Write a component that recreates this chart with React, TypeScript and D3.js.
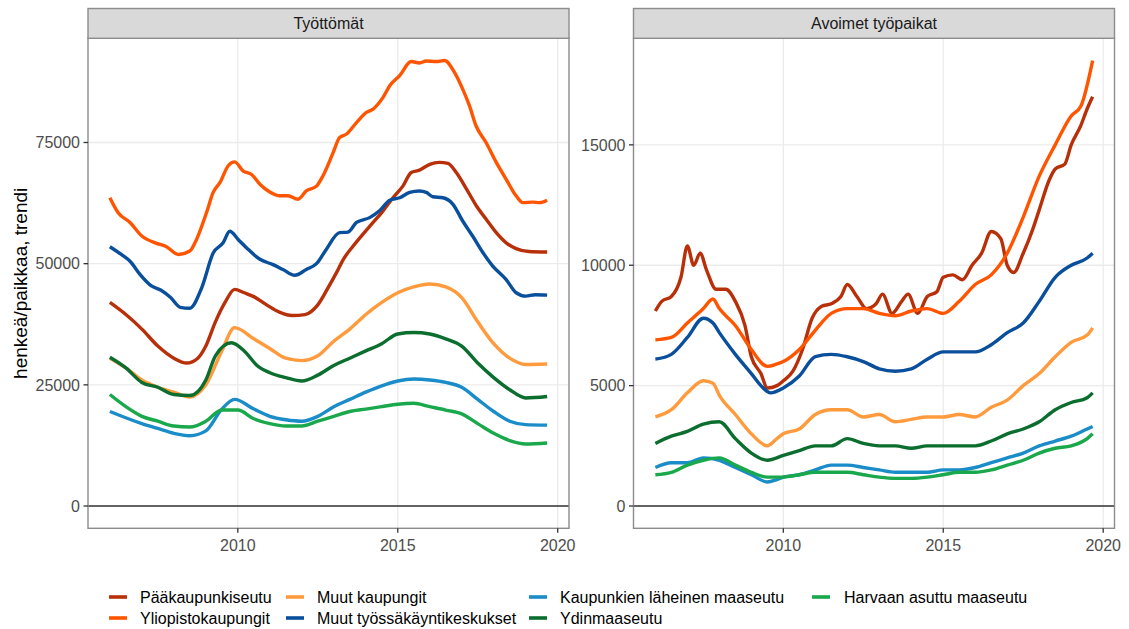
import React from 'react';
import * as d3 from 'd3';

type P = [number, number];

const seriesNames = [
  'Pääkaupunkiseutu',
  'Yliopistokaupungit',
  'Muut kaupungit',
  'Muut työssäkäyntikeskukset',
  'Kaupunkien läheinen maaseutu',
  'Ydinmaaseutu',
  'Harvaan asuttu maaseutu',
];
const seriesColors = ['#B83009', '#FF5500', '#FF9A3D', '#0A4F9C', '#1A8CC8', '#0B6E2E', '#19A84B'];

const panelTitles = ['Työttömät', 'Avoimet työpaikat'];
const xTicks = [2010, 2015, 2020];
const yTicksLeft = [0, 25000, 50000, 75000];
const yTicksRight = [0, 5000, 10000, 15000];
const yTitle = 'henkeä/paikkaa, trendi';

// --- Työttömät ---
const tPaakaupunkiseutu: P[] = [[2006.0,42000],[2006.5,39500],[2007.0,36500],[2007.5,33000],[2008.0,30500],[2008.4,29500],[2008.75,30500],[2009.0,33000],[2009.3,38000],[2009.6,42000],[2009.9,44700],[2010.2,44000],[2010.5,43200],[2010.9,41500],[2011.3,40000],[2011.7,39300],[2012.1,39500],[2012.5,41500],[2012.82,45000],[2013.08,48100],[2013.3,50900],[2013.6,53600],[2013.9,56000],[2014.23,58500],[2014.54,60900],[2014.85,63600],[2015.16,66000],[2015.42,68800],[2015.68,69300],[2016.0,70500],[2016.3,70900],[2016.57,70700],[2016.83,68800],[2017.15,65400],[2017.46,61900],[2017.76,59200],[2018.08,56400],[2018.39,54300],[2018.7,53100],[2019.1,52500],[2019.67,52400]];
const tYliopisto: P[] = [[2006.0,63600],[2006.26,60500],[2006.63,58500],[2007.0,55700],[2007.46,54200],[2007.77,53500],[2008.14,51900],[2008.5,52600],[2008.71,55000],[2009.02,60500],[2009.23,64700],[2009.44,66700],[2009.7,70200],[2009.9,71000],[2010.17,69100],[2010.43,68400],[2010.69,66400],[2011.0,64800],[2011.31,64000],[2011.57,64000],[2011.88,63300],[2012.14,65000],[2012.46,66000],[2012.66,68100],[2012.98,72900],[2013.18,76000],[2013.39,76700],[2013.71,79100],[2014.02,81200],[2014.23,81900],[2014.54,84300],[2014.75,86700],[2015.06,88800],[2015.42,91700],[2015.68,91400],[2015.89,91800],[2016.2,91700],[2016.46,91900],[2016.77,89500],[2017.03,86000],[2017.24,82600],[2017.45,78400],[2017.76,75000],[2018.08,70900],[2018.39,67400],[2018.7,64000],[2018.91,62600],[2019.22,62700],[2019.43,62600],[2019.67,63100]];
const tMuutKaupungit: P[] = [[2006.0,30500],[2006.5,28500],[2007.0,26000],[2007.5,24500],[2008.0,23500],[2008.5,22500],[2009.0,25000],[2009.5,32000],[2009.9,36800],[2010.5,34500],[2011.0,32500],[2011.5,30500],[2012.0,30000],[2012.5,31000],[2013.0,34000],[2013.5,36500],[2014.0,39500],[2014.5,42000],[2015.0,44000],[2015.5,45200],[2016.0,45800],[2016.5,45200],[2017.0,43000],[2017.5,38000],[2018.0,33500],[2018.5,30500],[2019.0,29200],[2019.67,29300]];
const tMuutTK: P[] = [[2006.0,53500],[2006.42,51600],[2006.63,50500],[2006.94,47800],[2007.3,45400],[2007.6,44500],[2007.9,43000],[2008.2,41000],[2008.5,40800],[2008.87,45000],[2009.23,52200],[2009.54,54300],[2009.75,56700],[2010.01,55000],[2010.27,53300],[2010.69,50900],[2011.1,49800],[2011.41,48800],[2011.78,47600],[2012.14,48800],[2012.46,50000],[2012.77,53000],[2013.18,56400],[2013.44,56500],[2013.71,58500],[2014.12,59500],[2014.43,60900],[2014.75,63100],[2015.06,63600],[2015.37,64700],[2015.68,65000],[2015.89,64700],[2016.1,63800],[2016.41,63600],[2016.72,62300],[2017.03,58800],[2017.34,55700],[2017.66,52300],[2017.97,49500],[2018.39,46700],[2018.7,44000],[2019.0,43300],[2019.3,43600],[2019.67,43500]];
const tKaupunkienLaheinen: P[] = [[2006.0,19500],[2007.0,17000],[2007.5,16000],[2008.0,15000],[2008.5,14500],[2009.0,15500],[2009.5,20000],[2009.9,22000],[2010.5,20000],[2011.0,18500],[2011.5,17800],[2012.0,17500],[2012.5,18500],[2013.0,20500],[2013.5,22000],[2014.0,23500],[2014.5,24800],[2015.0,25800],[2015.5,26200],[2016.0,26000],[2016.5,25500],[2017.0,24500],[2017.5,22000],[2018.0,19500],[2018.5,17500],[2019.0,16800],[2019.67,16700]];
const tYdinmaaseutu: P[] = [[2006.0,30700],[2006.5,28500],[2007.0,25500],[2007.5,24500],[2008.0,23000],[2008.5,22800],[2009.0,26000],[2009.3,31000],[2009.8,33700],[2010.2,32000],[2010.6,29000],[2011.0,27500],[2011.5,26500],[2012.0,25800],[2012.5,27000],[2013.0,29000],[2013.5,30500],[2014.0,32000],[2014.5,33500],[2015.0,35500],[2015.5,35800],[2016.0,35500],[2016.5,34500],[2017.0,33000],[2017.5,29500],[2018.0,26500],[2018.5,24000],[2019.0,22300],[2019.67,22600]];
const tHarvaan: P[] = [[2006.0,23000],[2006.5,20500],[2007.0,18500],[2007.5,17500],[2008.0,16500],[2008.5,16300],[2009.0,17500],[2009.5,19800],[2010.0,19800],[2010.5,18000],[2011.0,17000],[2011.5,16500],[2012.0,16500],[2012.5,17500],[2013.0,18500],[2013.5,19500],[2014.0,20000],[2014.5,20500],[2015.0,21000],[2015.5,21200],[2016.0,20500],[2016.5,19800],[2017.0,19000],[2017.5,17000],[2018.0,15000],[2018.5,13500],[2019.0,12800],[2019.67,13000]];

// --- Avoimet työpaikat ---
const aPaakaupunkiseutu: P[] = [[2006.0,8100],[2006.2,8500],[2006.5,8700],[2006.8,9500],[2007.0,10800],[2007.2,10000],[2007.4,10500],[2007.6,9800],[2007.9,9000],[2008.2,9000],[2008.5,8500],[2008.8,7500],[2009.0,6200],[2009.3,5500],[2009.5,4900],[2009.8,5000],[2010.0,5200],[2010.3,5600],[2010.6,6500],[2010.9,7800],[2011.2,8300],[2011.5,8400],[2011.8,8700],[2012.0,9200],[2012.3,8700],[2012.6,8200],[2012.9,8400],[2013.1,8800],[2013.4,8000],[2013.7,8500],[2013.9,8800],[2014.2,8000],[2014.5,8700],[2014.8,8900],[2015.0,9500],[2015.3,9600],[2015.6,9400],[2015.9,10000],[2016.2,10500],[2016.5,11400],[2016.8,11100],[2017.0,10000],[2017.2,9700],[2017.5,10500],[2017.8,11500],[2018.0,12300],[2018.3,13500],[2018.5,14000],[2018.8,14200],[2019.0,15000],[2019.3,15800],[2019.5,16500],[2019.67,17000]];
const aYliopisto: P[] = [[2006.0,6900],[2006.5,7000],[2007.0,7600],[2007.5,8200],[2007.8,8600],[2008.0,8200],[2008.5,7500],[2009.0,6500],[2009.5,5800],[2009.8,5900],[2010.0,6000],[2010.5,6500],[2011.0,7300],[2011.5,8000],[2012.0,8200],[2012.5,8200],[2013.0,8000],[2013.5,7900],[2014.0,8100],[2014.5,8200],[2015.0,8000],[2015.5,8500],[2016.0,9200],[2016.5,9600],[2017.0,10500],[2017.5,12000],[2018.0,13700],[2018.5,15000],[2019.0,16200],[2019.3,16600],[2019.67,18500]];
const aMuutKaupungit: P[] = [[2006.0,3700],[2006.5,4000],[2007.0,4700],[2007.5,5200],[2007.8,5100],[2008.0,4600],[2008.5,3800],[2009.0,3000],[2009.5,2500],[2009.8,2800],[2010.0,3000],[2010.5,3200],[2011.0,3800],[2011.5,4000],[2012.0,4000],[2012.5,3700],[2013.0,3800],[2013.5,3500],[2014.0,3600],[2014.5,3700],[2015.0,3700],[2015.5,3800],[2016.0,3700],[2016.5,4100],[2017.0,4400],[2017.5,5000],[2018.0,5500],[2018.5,6200],[2019.0,6800],[2019.5,7100],[2019.67,7400]];
const aMuutTK: P[] = [[2006.0,6100],[2006.5,6300],[2007.0,7000],[2007.5,7800],[2007.8,7600],[2008.0,7200],[2008.5,6300],[2009.0,5500],[2009.3,5000],[2009.6,4700],[2010.0,4900],[2010.5,5400],[2011.0,6200],[2011.5,6300],[2012.0,6200],[2012.5,6000],[2013.0,5700],[2013.5,5600],[2014.0,5700],[2014.5,6100],[2015.0,6400],[2015.5,6400],[2016.0,6400],[2016.5,6700],[2017.0,7200],[2017.5,7600],[2018.0,8500],[2018.5,9500],[2019.0,10000],[2019.5,10300],[2019.67,10500]];
const aKaupunkienLaheinen: P[] = [[2006.0,1600],[2006.5,1800],[2007.0,1800],[2007.5,2000],[2008.0,1900],[2008.5,1600],[2009.0,1300],[2009.5,1000],[2009.8,1100],[2010.0,1200],[2010.5,1300],[2011.0,1500],[2011.5,1700],[2012.0,1700],[2012.5,1600],[2013.0,1500],[2013.5,1400],[2014.0,1400],[2014.5,1400],[2015.0,1500],[2015.5,1500],[2016.0,1600],[2016.5,1800],[2017.0,2000],[2017.5,2200],[2018.0,2500],[2018.5,2700],[2019.0,2900],[2019.5,3200],[2019.67,3300]];
const aYdinmaaseutu: P[] = [[2006.0,2600],[2006.5,2900],[2007.0,3100],[2007.5,3400],[2008.0,3500],[2008.5,2800],[2009.0,2200],[2009.5,1900],[2010.0,2100],[2010.5,2300],[2011.0,2500],[2011.5,2500],[2012.0,2800],[2012.5,2600],[2013.0,2500],[2013.5,2500],[2014.0,2400],[2014.5,2500],[2015.0,2500],[2015.5,2500],[2016.0,2500],[2016.5,2700],[2017.0,3000],[2017.5,3200],[2018.0,3500],[2018.5,4000],[2019.0,4300],[2019.5,4500],[2019.67,4700]];
const aHarvaan: P[] = [[2006.0,1300],[2006.5,1400],[2007.0,1700],[2007.5,1900],[2008.0,2000],[2008.5,1700],[2009.0,1400],[2009.5,1200],[2010.0,1200],[2010.5,1300],[2011.0,1400],[2011.5,1400],[2012.0,1400],[2012.5,1300],[2013.0,1200],[2013.5,1150],[2014.0,1150],[2014.5,1200],[2015.0,1300],[2015.5,1400],[2016.0,1400],[2016.5,1500],[2017.0,1700],[2017.5,1900],[2018.0,2200],[2018.5,2400],[2019.0,2500],[2019.5,2800],[2019.67,3000]];

const leftSeries = [tPaakaupunkiseutu, tYliopisto, tMuutKaupungit, tMuutTK, tKaupunkienLaheinen, tYdinmaaseutu, tHarvaan];
const rightSeries = [aPaakaupunkiseutu, aYliopisto, aMuutKaupungit, aMuutTK, aKaupunkienLaheinen, aYdinmaaseutu, aHarvaan];

const FONT = '"Liberation Sans", Arial, Helvetica, sans-serif';
const W = 1129, H = 629;
const PANEL_TOP = 38.3, PANEL_BOTTOM = 528.3, STRIP_TOP = 8.5;
const PANEL_W = 481;
const panelLefts = [88, 633.5];
const FS = 16;

function Panel({ idx, series, yTicks }: { idx: number; series: P[][]; yTicks: number[] }) {
  const left = panelLefts[idx];
  const right = left + PANEL_W;
  const allX = series.flat().map(d => d[0]);
  const xmin = d3.min(allX)!, xmax = d3.max(allX)!;
  const xpad = (xmax - xmin) * 0.05;
  const x = d3.scaleLinear().domain([xmin - xpad, xmax + xpad]).range([left, right]);
  const ymax = d3.max(series.flat().map(d => d[1]))!;
  const ymin = 0;
  const ypad = (ymax - ymin) * 0.05;
  const y = d3.scaleLinear().domain([ymin - ypad, ymax + ypad]).range([PANEL_BOTTOM, PANEL_TOP]);
  const line = d3.line<P>().x(d => x(d[0])).y(d => y(d[1])).curve(d3.curveMonotoneX);
  const clipId = `clip${idx}`;
  return (
    <g>
      <defs>
        <clipPath id={clipId}>
          <rect x={left} y={PANEL_TOP} width={PANEL_W} height={PANEL_BOTTOM - PANEL_TOP} />
        </clipPath>
      </defs>
      <rect x={left} y={PANEL_TOP} width={PANEL_W} height={PANEL_BOTTOM - PANEL_TOP} fill="#fff" />
      {yTicks.map(t => (
        <line key={'gy' + t} x1={left} x2={right} y1={y(t)} y2={y(t)} stroke="#EBEBEB" strokeWidth={1.3} />
      ))}
      {xTicks.map(t => (
        <line key={'gx' + t} x1={x(t)} x2={x(t)} y1={PANEL_TOP} y2={PANEL_BOTTOM} stroke="#EBEBEB" strokeWidth={1.3} />
      ))}
      <line x1={left} x2={right} y1={y(0)} y2={y(0)} stroke="#333" strokeWidth={1.4} />
      <g clipPath={`url(#${clipId})`}>
        {series.map((s, i) => (
          <path key={i} d={line(s) || ''} fill="none" stroke={seriesColors[i]} strokeWidth={3.4} strokeLinejoin="round" strokeLinecap="butt" />
        ))}
      </g>
      <rect x={left} y={PANEL_TOP} width={PANEL_W} height={PANEL_BOTTOM - PANEL_TOP} fill="none" stroke="#8C8C8C" strokeWidth={1.4} />
      <rect x={left} y={STRIP_TOP} width={PANEL_W} height={PANEL_TOP - STRIP_TOP} fill="#D9D9D9" stroke="#8C8C8C" strokeWidth={1.4} />
      <text x={(left + right) / 2} y={29} textAnchor="middle" fontFamily={FONT} fontSize={FS} fill="#1A1A1A">{panelTitles[idx]}</text>
      {yTicks.map(t => (
        <g key={'ty' + t}>
          <line x1={left - 4.5} x2={left} y1={y(t)} y2={y(t)} stroke="#333" strokeWidth={1.3} />
          <text x={left - 8} y={y(t) + 5.8} textAnchor="end" fontFamily={FONT} fontSize={FS} fill="#4D4D4D">{t}</text>
        </g>
      ))}
      {xTicks.map(t => (
        <g key={'tx' + t}>
          <line x1={x(t)} x2={x(t)} y1={PANEL_BOTTOM} y2={PANEL_BOTTOM + 4.5} stroke="#333" strokeWidth={1.3} />
          <text x={x(t)} y={550.8} textAnchor="middle" fontFamily={FONT} fontSize={FS} fill="#4D4D4D">{t}</text>
        </g>
      ))}
    </g>
  );
}

const legendKeyX = [109, 286, 529, 812];
const legendTextX = [140, 317, 560, 844];
const legendRowY = [597, 618];

export default function App() {
  return (
    <svg width={W} height={H} style={{ position: 'absolute', left: 0, top: 0, background: '#fff' }}>
      <rect width={W} height={H} fill="#fff" />
      <Panel idx={0} series={leftSeries} yTicks={yTicksLeft} />
      <Panel idx={1} series={rightSeries} yTicks={yTicksRight} />
      <text transform={`translate(27, ${(PANEL_TOP + PANEL_BOTTOM) / 2}) rotate(-90)`} textAnchor="middle" fontFamily={FONT} fontSize={19} fill="#000">{yTitle}</text>
      {seriesNames.map((name, i) => {
        const col = Math.floor(i / 2);
        const row = i % 2;
        const yy = legendRowY[row];
        return (
          <g key={name}>
            <line x1={legendKeyX[col]} x2={legendKeyX[col] + 18} y1={yy} y2={yy} stroke={seriesColors[i]} strokeWidth={3.6} />
            <text x={legendTextX[col]} y={yy + 5.7} fontFamily={FONT} fontSize={FS} fill="#000">{name}</text>
          </g>
        );
      })}
    </svg>
  );
}
